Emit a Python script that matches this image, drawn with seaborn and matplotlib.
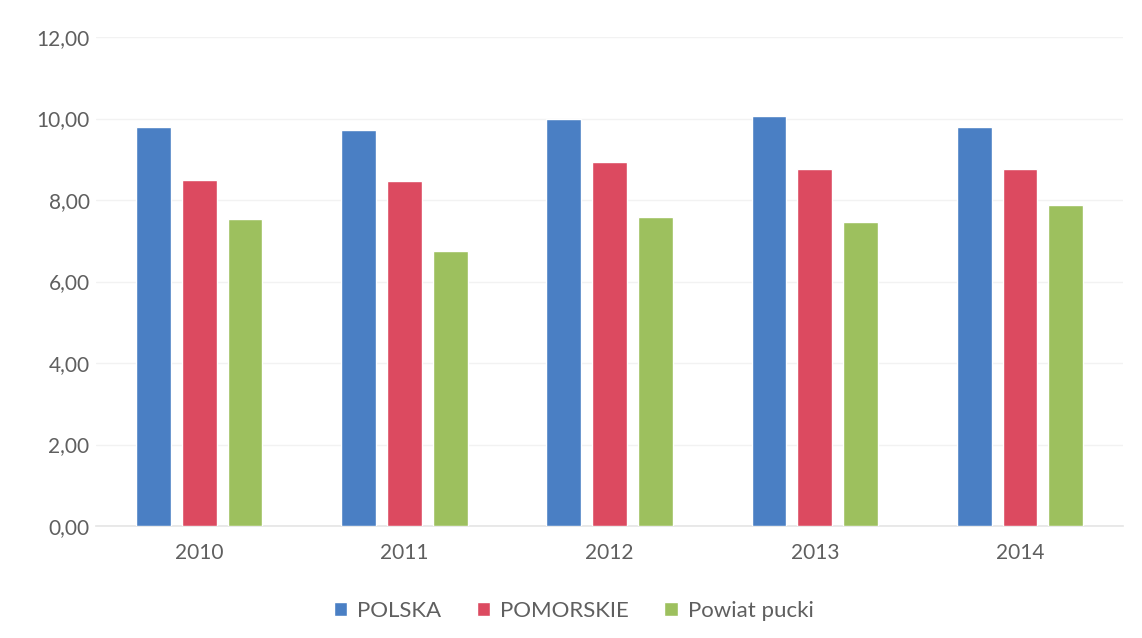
import matplotlib
matplotlib.use("Agg")
import matplotlib.pyplot as plt
import seaborn as sns
import pandas as pd
from matplotlib.ticker import FuncFormatter, MultipleLocator

years = ["2010", "2011", "2012", "2013", "2014"]
series = ["POLSKA", "POMORSKIE", "Powiat pucki"]
polska = [9.80, 9.72, 9.98, 10.06, 9.78]
pomorskie = [8.48, 8.46, 8.94, 8.76, 8.77]
powiat = [7.53, 6.75, 7.59, 7.47, 7.88]
colors = ["#4A7FC4", "#DC4A60", "#9DC05E"]

rows = []
for name, vals in zip(series, [polska, pomorskie, powiat]):
    for y, v in zip(years, vals):
        rows.append({"Rok": y, "Seria": name, "Wartość": v})
df = pd.DataFrame(rows)

sns.set_theme(style="white")
plt.rcParams["font.family"] = ["Lato", "DejaVu Sans"]

fig = plt.figure(figsize=(11.42, 6.38), dpi=100)
ax = fig.add_axes([0.0845, 0.1755, 0.8985, 0.7665])

sns.barplot(data=df, x="Rok", y="Wartość", hue="Seria", order=years,
            hue_order=series, palette=colors, width=0.67, gap=0.24,
            saturation=1, ax=ax, legend=True, zorder=3)

ax.set_ylim(0, 12)
ax.set_xlim(-0.5, 4.5)
ax.yaxis.set_major_locator(MultipleLocator(2))
ax.yaxis.set_major_formatter(FuncFormatter(lambda v, p: f"{v:.2f}".replace(".", ",")))
ax.grid(axis="y", color="#F2F2F2", linewidth=1, zorder=0)
ax.set_axisbelow(True)
for s in ["top", "right", "left"]:
    ax.spines[s].set_visible(False)
ax.spines["bottom"].set_color("#E6E6E6")
ax.set_xlabel("")
ax.set_ylabel("")
ax.tick_params(axis="both", length=0, labelsize=15, labelcolor="#5F5F5F")
ax.tick_params(axis="y", pad=5)
ax.tick_params(axis="x", pad=12)

leg = ax.legend(loc="upper center", bbox_to_anchor=(0.465, -0.112), ncol=3,
                frameon=False, fontsize=16, handlelength=0.6, handleheight=0.6,
                handletextpad=0.45, columnspacing=1.6)
for t in leg.get_texts():
    t.set_color("#5F5F5F")

fig.savefig("out.png", dpi=100, facecolor="white")
